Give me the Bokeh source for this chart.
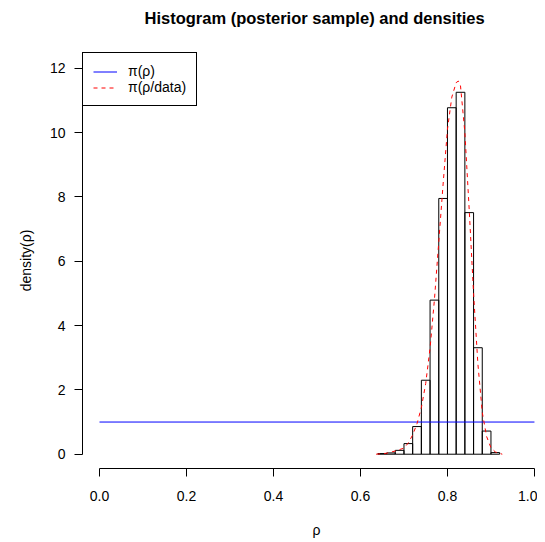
from bokeh.plotting import figure
from bokeh.models import Range1d, FixedTicker, Legend, LegendItem, Title
from bokeh.embed import file_html
from bokeh.resources import INLINE

# Histogram of the posterior sample (density scale), bins of width 0.02
bin_left = [0.64, 0.66, 0.68, 0.70, 0.72, 0.74, 0.76, 0.78, 0.80, 0.82, 0.84, 0.86, 0.88, 0.90]
bin_right = [0.66, 0.68, 0.70, 0.72, 0.74, 0.76, 0.78, 0.80, 0.82, 0.84, 0.86, 0.88, 0.90, 0.92]
hist_density = [0.02, 0.04, 0.12, 0.33, 0.86, 2.30, 4.79, 7.95, 10.77, 11.25, 7.51, 3.31, 0.72, 0.05]

# Prior density pi(rho): uniform on [0, 1]
prior_x = [0.0, 1.0]
prior_y = [1.0, 1.0]

# Posterior density estimate pi(rho/data)
post_x = [0.636, 0.66, 0.68, 0.70, 0.71, 0.72, 0.73, 0.74, 0.75, 0.76, 0.77, 0.78, 0.79,
          0.80, 0.81, 0.82, 0.825, 0.83, 0.84, 0.85, 0.86, 0.87, 0.88, 0.89, 0.90, 0.91, 0.926]
post_y = [0.0, 0.03, 0.10, 0.19, 0.35, 0.60, 0.95, 1.45, 2.2, 3.3, 4.8, 6.6, 8.4,
          10.1, 11.1, 11.55, 11.6, 11.45, 10.0, 7.6, 5.0, 2.8, 1.3, 0.55, 0.2, 0.07, 0.0]

x_ticks = [0.0, 0.2, 0.4, 0.6, 0.8, 1.0]
x_tick_labels = ["0.0", "0.2", "0.4", "0.6", "0.8", "1.0"]
y_ticks = [0, 2, 4, 6, 8, 10, 12]
y_tick_labels = ["0", "2", "4", "6", "8", "10", "12"]

title_text = "Histogram (posterior sample) and densities"
x_label = "ρ"
y_label = "density(ρ)"
legend_labels = ["π(ρ)", "π(ρ/data)"]

FONT = "Liberation Sans"

p = figure(width=537, height=540,
           x_range=Range1d(-0.0391, 1.007), y_range=Range1d(-0.444, 12.487),
           output_backend="svg", toolbar_location=None,
           min_border_left=82, min_border_right=0, min_border_top=52, min_border_bottom=72)

p.outline_line_color = None
p.xgrid.visible = False
p.ygrid.visible = False
p.background_fill_color = "white"
p.border_fill_color = "white"

# histogram bars
p.quad(left=bin_left, right=bin_right, bottom=0, top=hist_density,
       fill_color=None, line_color="black", line_width=1)

prior_r = p.line(prior_x, prior_y, line_color="blue", line_width=1)
post_r = p.line(post_x, post_y, line_color="red", line_width=1, line_dash="4 4")

# axes in R style
for ax, ticks, labels, bnds in ((p.xaxis[0], x_ticks, x_tick_labels, (0, 1)),
                                (p.yaxis[0], y_ticks, y_tick_labels, (0, 12))):
    ax.ticker = FixedTicker(ticks=ticks)
    ax.major_label_overrides = {t: l for t, l in zip(ticks, labels)}
    ax.bounds = bnds
    ax.minor_tick_line_color = None
    ax.major_tick_out = 8
    ax.major_tick_in = 0
    ax.axis_line_color = "black"
    ax.major_tick_line_color = "black"
    ax.major_label_text_font = FONT
    ax.major_label_text_font_size = "14px"
    ax.major_label_text_color = "black"
    ax.axis_label_text_font = FONT
    ax.axis_label_text_font_size = "14px"
    ax.axis_label_text_font_style = "normal"
    ax.axis_label_text_color = "black"

p.xaxis.major_label_standoff = 14
p.yaxis.major_label_standoff = 9
p.yaxis.axis_label = y_label
p.yaxis.axis_label_standoff = 13

p.add_layout(Title(text=x_label, align="left", offset=230, text_font=FONT,
                   text_font_size="14px", text_font_style="normal", text_color="black",
                   standoff=0, vertical_align="top",
                   padding=dict(left=0, right=0, top=18, bottom=0)), "below")

p.add_layout(Title(text=title_text, align="left", offset=62, text_font=FONT,
                   text_font_size="16.5px", text_font_style="bold", text_color="black",
                   standoff=0, padding=dict(left=0, right=0, top=0, bottom=26)), "above")

legend = Legend(items=[LegendItem(label=legend_labels[0], renderers=[prior_r]),
                       LegendItem(label=legend_labels[1], renderers=[post_r])],
                location="top_left", margin=0, padding=10, spacing=0,
                glyph_width=24, glyph_height=15, label_height=15, label_standoff=11,
                label_text_font=FONT, label_text_font_size="14px", label_text_color="black",
                border_line_color="black", border_line_width=1, border_line_alpha=1.0,
                background_fill_color="white", background_fill_alpha=1.0)
p.add_layout(legend)

open("out.html", "w").write(file_html(p, INLINE))
